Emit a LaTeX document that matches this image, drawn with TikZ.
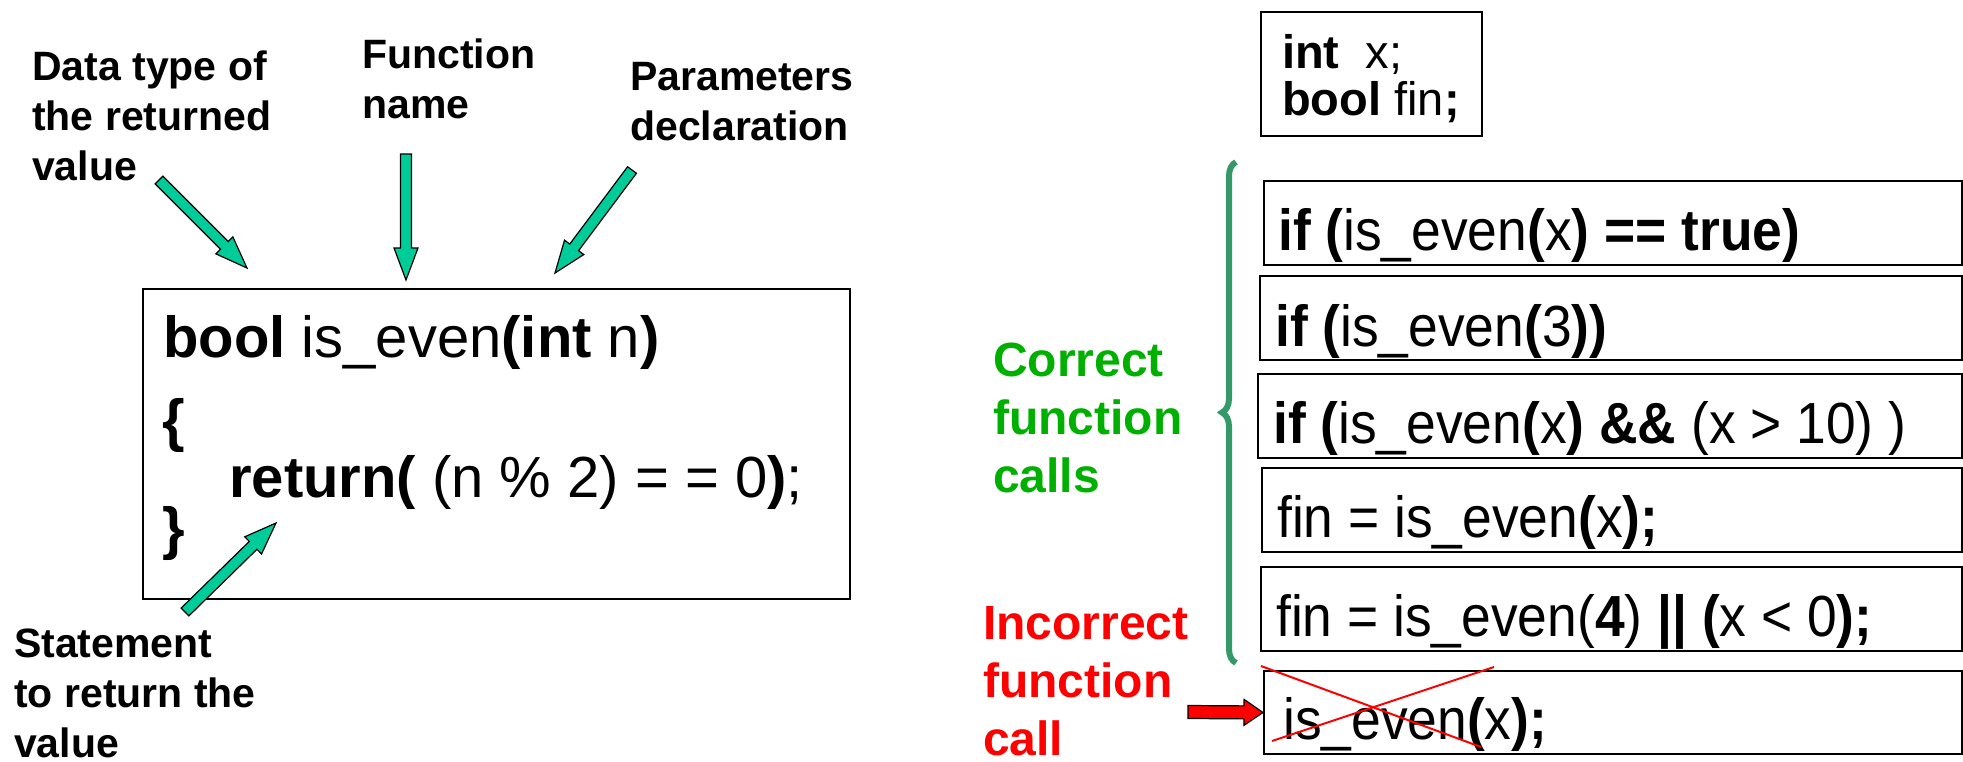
\documentclass[tikz,border=0pt]{standalone}
\usepackage{fontspec}
\setmainfont{Liberation Sans}
\newfontfamily\callfont[FakeStretch=0.92]{Liberation Sans}
\usetikzlibrary{calc,decorations.pathreplacing}

\definecolor{arrowgreen}{RGB}{0,204,153}
\definecolor{bracegreen}{RGB}{51,153,102}
\definecolor{notegreen}{RGB}{0,176,0}

% block arrow: [style]{tail}{tip}{shaft half width}{head half width}{head length}
\newcommand{\blockarrow}[6][]{%
  \draw[#1] ($(#2)!#4!90:(#3)$) -- ($($(#3)!#6!(#2)$)!#4!90:(#3)$)
    -- ($($(#3)!#6!(#2)$)!#5!90:(#3)$) -- (#3)
    -- ($($(#3)!#6!(#2)$)!#5!-90:(#3)$) -- ($($(#3)!#6!(#2)$)!#4!-90:(#3)$)
    -- ($(#2)!#4!-90:(#3)$) -- cycle;}

\begin{document}
\begin{tikzpicture}[x=1pt, y=-1pt,
    note/.style={font=\fontsize{41}{50}\selectfont\bfseries, align=left, anchor=base west, inner sep=0pt},
    callnote/.style={font=\fontsize{48}{58}\selectfont\bfseries, align=left, anchor=base west, inner sep=0pt},
    codetext/.style={font=\fontsize{58}{58}\selectfont, anchor=base west, inner sep=0pt},
    calltext/.style={font=\callfont\fontsize{58}{58}\selectfont, anchor=base west, inner sep=0pt},
    callbox/.style={draw, line width=2pt, anchor=north west, minimum height=84pt, inner sep=0pt},
    greenarrow/.style={fill=arrowgreen, draw=black, line width=1.2pt, line join=miter},
    redarrow/.style={fill=red, draw=black, line width=1.2pt, line join=miter}]
    \useasboundingbox (0,0) rectangle (1963,761);

    % Notes around the function (placed at the baseline of their last line)
    \node[note] (rettype) at (32,180) {Data type of\\the returned\\value};
    \node[note] (fname) at (362,118) {Function\\name};
    \node[note] (params) at (630,140) {Parameters\\declaration};
    \node[note] (retstmt) at (14,757) {Statement\\to return the\\value};

    % Function definition
    \node[draw, line width=2pt, minimum width=707pt, minimum height=310pt, anchor=north west, inner sep=0pt] (func) at (142,288) {};
    \node[codetext] (sig) at (163,357) {\textbf{bool} is\_even\textbf{(int} n\textbf{)}};
    \node[codetext] (open) at (162,440) {\textbf{\{}};
    \node[codetext] (ret) at (229,497) {\textbf{return(} (n \% 2) = = 0\textbf{)};};
    \node[codetext] (close) at (162,548) {\textbf{\}}};

    % Green arrows
    \coordinate (rettail) at (159,180);  \coordinate (rettip) at (247,268);
    \coordinate (nametail) at (406,154); \coordinate (nametip) at (406,280);
    \coordinate (partail) at (632,170);  \coordinate (partip) at (555,273);
    \coordinate (stmtail) at (185,612);  \coordinate (stmtip) at (276,523);
    \blockarrow[greenarrow]{rettail}{rettip}{5.5pt}{12pt}{32pt}
    \blockarrow[greenarrow]{nametail}{nametip}{5.5pt}{12pt}{32pt}
    \blockarrow[greenarrow]{partail}{partip}{5.5pt}{12pt}{32pt}
    \blockarrow[greenarrow]{stmtail}{stmtip}{5.5pt}{12pt}{32pt}

    % Declarations
    \node[callbox, minimum width=221pt, minimum height=124pt] (decl) at (1260,11) {};
    \node[font=\fontsize{47}{47}\selectfont, align=left, anchor=base west, inner sep=0pt] (decltext) at (1282,115) {\textbf{int}\ \ x;\\\textbf{bool} fin\textbf{;}};

    % Calls
    \node[callbox, minimum width=698pt] (c1) at (1263,180) {};
    \node[callbox, minimum width=702pt] (c2) at (1259,275) {};
    \node[callbox, minimum width=704pt] (c3) at (1257,373) {};
    \node[callbox, minimum width=700pt] (c4) at (1261,467) {};
    \node[callbox, minimum width=701pt] (c5) at (1260,566) {};
    \node[callbox, minimum width=698pt, minimum height=83pt] (c6) at (1263,670) {};

    \node[calltext] (t1) at (1278,250) {\textbf{if (}is\_even\textbf{(}x\textbf{) == true)}};
    \node[calltext] (t2) at (1275,346) {\textbf{if (}is\_even\textbf{(}3\textbf{))}};
    \node[calltext] (t3) at (1273,443) {\textbf{if (}is\_even\textbf{(}x\textbf{) \&\&} (x > 10) )};
    \node[calltext] (t4) at (1277,537) {fin = is\_even\textbf{(}x\textbf{);}};
    \node[calltext] (t5) at (1276,636) {fin = is\_even(\textbf{4}) \textbf{||} \textbf{(}x < 0\textbf{);}};
    \node[calltext] (t6) at (1283,739) {is\_even\textbf{(}x\textbf{);}};

    % Brace and its notes
    \draw[bracegreen, line width=6pt, decorate, decoration={brace, amplitude=14pt}] (1236,663) -- (1236,162);
    \node[callnote, text=notegreen] (correct) at (993,492) {Correct\\function\\calls};
    \node[callnote, text=red] (incorrect) at (983,755) {Incorrect\\function\\call};

    % Wrong call
    \draw[red, line width=2pt] (1261,666) -- (1481,747);
    \draw[red, line width=2pt] (1494,667) -- (1272,741);
    \coordinate (wrongtail) at (1188,712);
    \blockarrow[redarrow]{wrongtail}{c6.west}{6.5pt}{13pt}{19pt}
\end{tikzpicture}
\end{document}
